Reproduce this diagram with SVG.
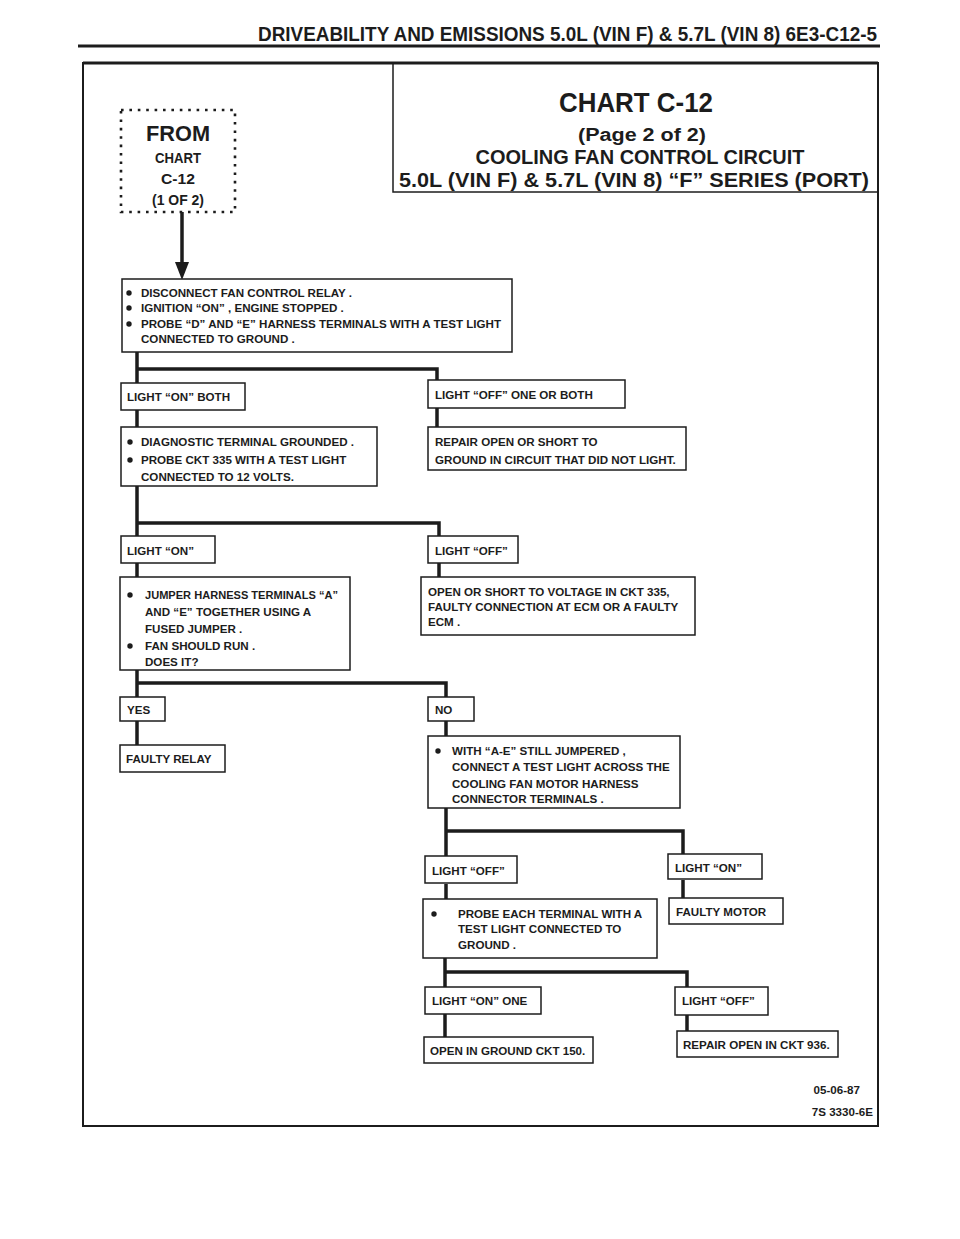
<svg xmlns="http://www.w3.org/2000/svg" width="960" height="1239" viewBox="0 0 960 1239">
<style>
.box{fill:#fff;stroke:#1c1c1c;stroke-width:1.5}
.conn{stroke:#1c1c1c;stroke-width:3.5;fill:none}
.t{font-family:"Liberation Sans",Arial,sans-serif;font-weight:bold;font-size:11.6px;fill:#1c1c1c}
.h{font-family:"Liberation Sans",Arial,sans-serif;font-weight:bold;fill:#1c1c1c}
.c{text-anchor:middle}
.dot{fill:#1c1c1c}
</style>
<rect width="960" height="1239" fill="#fff"/>
<g id="header">
<text class="h" x="258" y="41" font-size="20" textLength="619" lengthAdjust="spacingAndGlyphs">DRIVEABILITY AND EMISSIONS 5.0L (VIN F) &amp; 5.7L (VIN 8) 6E3-C12-5</text>
<line x1="78" y1="46" x2="880" y2="46" stroke="#1c1c1c" stroke-width="3"/>
</g>
<g id="frame">
<rect x="83" y="63" width="795" height="1063" fill="none" stroke="#1c1c1c" stroke-width="2"/>
<line x1="83" y1="63" x2="878" y2="63" stroke="#1c1c1c" stroke-width="3"/>
</g>
<g id="title">
<rect x="393" y="63" width="485" height="129" fill="none" stroke="#1c1c1c" stroke-width="1.5"/>
<text class="h c" x="636" y="112" font-size="28" textLength="154" lengthAdjust="spacingAndGlyphs">CHART C-12</text>
<text class="h c" x="642" y="141" font-size="18" textLength="128" lengthAdjust="spacingAndGlyphs">(Page 2 of 2)</text>
<text class="h c" x="640" y="164" font-size="20" textLength="329" lengthAdjust="spacingAndGlyphs">COOLING FAN CONTROL CIRCUIT</text>
<text class="h c" x="634" y="187" font-size="20" textLength="470" lengthAdjust="spacingAndGlyphs">5.0L (VIN F) &amp; 5.7L (VIN 8) “F” SERIES (PORT)</text>
</g>
<g id="from">
<rect x="121" y="110" width="114" height="102" fill="none" stroke="#1c1c1c" stroke-width="2.6" stroke-dasharray="2.6 5.8"/>
<text class="h c" x="178" y="141" font-size="22" textLength="64" lengthAdjust="spacingAndGlyphs">FROM</text>
<text class="h c" x="178" y="163" font-size="15" textLength="46" lengthAdjust="spacingAndGlyphs">CHART</text>
<text class="h c" x="178" y="184" font-size="15" textLength="34" lengthAdjust="spacingAndGlyphs">C-12</text>
<text class="h c" x="178" y="205" font-size="15" textLength="52" lengthAdjust="spacingAndGlyphs">(1 OF 2)</text>
</g>
<g id="connectors">
<line class="conn" x1="182" y1="212" x2="182" y2="264" stroke-width="3"/>
<polygon points="175,262 189,262 182,280" fill="#1c1c1c"/>
<path class="conn" d="M137 352V383M137 369H437V380M137 410V427M437 408V427M137 486V536M137 523H439V536M137 563V577M439 563V577M137 670V697M137 683H446V697M137 721V745M446 721V736M446 808V857M446 831H683V855M446 884V899M683 880V898M445 958V987M445 972H687V987M445 1014V1037M687 1014V1031"/>
</g>
<g id="n1">
<rect class="box" x="122" y="279" width="390" height="73"/>
<circle class="dot" cx="129" cy="293" r="2.7"/><circle class="dot" cx="129" cy="308" r="2.7"/><circle class="dot" cx="129" cy="324" r="2.7"/>
<text class="t" x="141" y="297">DISCONNECT FAN CONTROL RELAY .</text>
<text class="t" x="141" y="312">IGNITION “ON” , ENGINE STOPPED .</text>
<text class="t" x="141" y="328">PROBE “D” AND “E” HARNESS TERMINALS WITH A TEST LIGHT</text>
<text class="t" x="141" y="343">CONNECTED TO GROUND .</text>
</g>
<g id="n2"><rect class="box" x="121" y="383" width="124" height="27"/><text class="t" x="127" y="401">LIGHT “ON” BOTH</text></g>
<g id="n3"><rect class="box" x="428" y="380" width="197" height="28"/><text class="t" x="435" y="399">LIGHT “OFF” ONE OR BOTH</text></g>
<g id="n4">
<rect class="box" x="121" y="427" width="256" height="59"/>
<circle class="dot" cx="130" cy="442" r="2.7"/><circle class="dot" cx="130" cy="460" r="2.7"/>
<text class="t" x="141" y="446">DIAGNOSTIC TERMINAL GROUNDED .</text>
<text class="t" x="141" y="464">PROBE CKT 335 WITH A TEST LIGHT</text>
<text class="t" x="141" y="481">CONNECTED TO 12 VOLTS.</text>
</g>
<g id="n5">
<rect class="box" x="428" y="427" width="258" height="43"/>
<text class="t" x="435" y="446">REPAIR OPEN OR SHORT TO</text>
<text class="t" x="435" y="464">GROUND IN CIRCUIT THAT DID NOT LIGHT.</text>
</g>
<g id="n6"><rect class="box" x="121" y="536" width="94" height="27"/><text class="t" x="127" y="555">LIGHT “ON”</text></g>
<g id="n7"><rect class="box" x="428" y="536" width="90" height="27"/><text class="t" x="435" y="555">LIGHT “OFF”</text></g>
<g id="n8">
<rect class="box" x="120" y="577" width="230" height="93"/>
<circle class="dot" cx="130" cy="595" r="2.7"/><circle class="dot" cx="130" cy="646" r="2.7"/>
<text class="t" x="145" y="599" textLength="193" lengthAdjust="spacingAndGlyphs">JUMPER HARNESS TERMINALS “A”</text>
<text class="t" x="145" y="616">AND “E” TOGETHER USING A</text>
<text class="t" x="145" y="633">FUSED JUMPER  .</text>
<text class="t" x="145" y="650">FAN SHOULD RUN .</text>
<text class="t" x="145" y="666">DOES IT?</text>
</g>
<g id="n9">
<rect class="box" x="421" y="577" width="274" height="58"/>
<text class="t" x="428" y="596">OPEN OR SHORT TO VOLTAGE  IN CKT 335,</text>
<text class="t" x="428" y="611">FAULTY CONNECTION AT ECM OR A FAULTY</text>
<text class="t" x="428" y="626">ECM .</text>
</g>
<g id="n10"><rect class="box" x="120" y="697" width="45" height="24"/><text class="t" x="127" y="714">YES</text></g>
<g id="n11"><rect class="box" x="428" y="697" width="46" height="24"/><text class="t" x="435" y="714">NO</text></g>
<g id="n12"><rect class="box" x="120" y="745" width="105" height="27"/><text class="t" x="126" y="763">FAULTY RELAY</text></g>
<g id="n13">
<rect class="box" x="428" y="736" width="252" height="72"/>
<circle class="dot" cx="438" cy="751" r="2.7"/>
<text class="t" x="452" y="755">WITH “A-E” STILL JUMPERED ,</text>
<text class="t" x="452" y="771">CONNECT A TEST LIGHT ACROSS THE</text>
<text class="t" x="452" y="788">COOLING FAN MOTOR HARNESS</text>
<text class="t" x="452" y="803">CONNECTOR TERMINALS .</text>
</g>
<g id="n14"><rect class="box" x="425" y="856" width="92" height="27"/><text class="t" x="432" y="875">LIGHT “OFF”</text></g>
<g id="n15"><rect class="box" x="668" y="854" width="94" height="25"/><text class="t" x="675" y="872">LIGHT “ON”</text></g>
<g id="n16">
<rect class="box" x="423" y="899" width="234" height="59"/>
<circle class="dot" cx="434" cy="914" r="2.7"/>
<text class="t" x="458" y="918">PROBE EACH TERMINAL WITH A</text>
<text class="t" x="458" y="933">TEST LIGHT CONNECTED TO</text>
<text class="t" x="458" y="949">GROUND .</text>
</g>
<g id="n17"><rect class="box" x="669" y="898" width="114" height="26"/><text class="t" x="676" y="916">FAULTY MOTOR</text></g>
<g id="n18"><rect class="box" x="425" y="987" width="116" height="27"/><text class="t" x="432" y="1005">LIGHT “ON” ONE</text></g>
<g id="n19"><rect class="box" x="675" y="987" width="93" height="28"/><text class="t" x="682" y="1005">LIGHT “OFF”</text></g>
<g id="n20"><rect class="box" x="424" y="1037" width="169" height="26"/><text class="t" x="430" y="1055">OPEN IN GROUND CKT 150.</text></g>
<g id="n21"><rect class="box" x="677" y="1031" width="161" height="26"/><text class="t" x="683" y="1049">REPAIR OPEN IN CKT 936.</text></g>
<g id="footer">
<text class="t" x="860" y="1094" text-anchor="end">05-06-87</text>
<text class="t" x="873" y="1116" text-anchor="end">7S 3330-6E</text>
</g>
</svg>
